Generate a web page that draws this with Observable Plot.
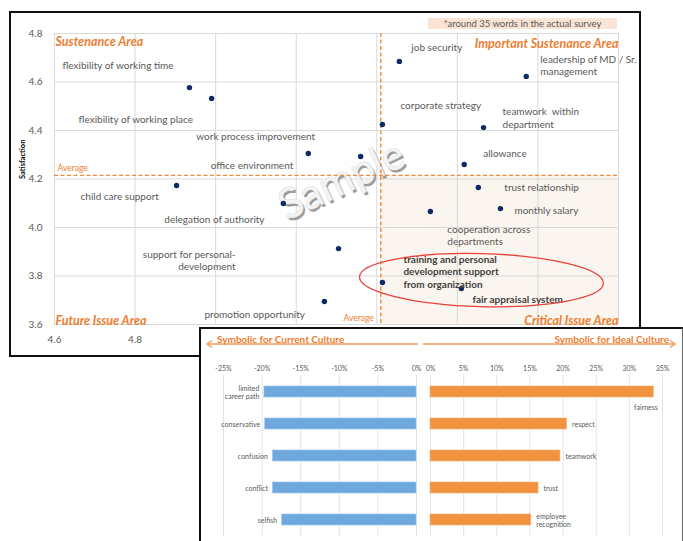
<!DOCTYPE html>
<html><head><meta charset="utf-8">
<script src="https://cdn.jsdelivr.net/npm/d3@7"></script>
<script src="https://cdn.jsdelivr.net/npm/@observablehq/plot@0.6"></script>
<style>
body{margin:0;background:#fff;font-family:Lato,"Liberation Sans",sans-serif;}
#page{position:relative;width:683px;height:541px;overflow:hidden;background:#fff;}
#scatterBox{position:absolute;left:9px;top:11px;width:632px;height:346px;border:2px solid #111;box-sizing:border-box;background:#fff;}
#scatterBox svg{position:absolute;left:0;top:0;}
#note{position:absolute;left:417px;top:5px;width:189px;height:11px;background:#FBE4D5;font-size:9.5px;color:#595959;text-align:center;line-height:11px;white-space:nowrap;}
#barBox{position:absolute;left:199px;top:327px;width:484px;height:222px;border-left:2px solid #111;border-top:2px solid #111;border-right:1px solid #666;box-sizing:border-box;background:#fff;}
#barBox > svg, #barBox > div{position:absolute;}
</style></head>
<body>
<div id="page">
  <div id="scatterBox"><div id="note">*around 35 words in the actual survey</div></div>
  <div id="barBox">
    <svg id="hdr" width="481" height="26" style="left:0;top:0;position:absolute;overflow:visible">
      <line x1="6" y1="15" x2="217" y2="15" stroke="#F29B5B" stroke-width="1.5"/>
      <polyline points="11,11.5 6,15 11,18.5" fill="none" stroke="#F29B5B" stroke-width="1.5"/>
      <line x1="222" y1="15" x2="474" y2="15" stroke="#F29B5B" stroke-width="1.5"/>
      <polyline points="469,11.5 474,15 469,18.5" fill="none" stroke="#F29B5B" stroke-width="1.5"/>
      <text x="16" y="14" fill="#ED7D31" font-size="10" font-weight="bold" font-family="Lato">Symbolic for Current Culture</text>
      <text x="468" y="14" fill="#ED7D31" font-size="10" font-weight="bold" font-family="Lato" text-anchor="end">Symbolic for Ideal Culture</text>
    </svg>
  </div>
</div>
<script>
// ---------- scatter data ----------
const items = ["flexibility of working time","flexibility of working place","work process improvement","office environment",
  "job security","leadership of MD / Sr. management","corporate strategy","teamwork within department","allowance",
  "child care support","delegation of authority","support for personal-development","promotion opportunity",
  "trust relationship","monthly salary","cooperation across departments",
  "training and personal development support from organization","fair appraisal system"];
const itemLabels = ["flexibility of working time","flexibility of working place","work process improvement","office environment",
  "job security","leadership of MD / Sr.\nmanagement","corporate strategy","teamwork  within\ndepartment","allowance",
  "child care support","delegation of authority","support for personal-\ndevelopment","promotion opportunity",
  "trust relationship","monthly salary","cooperation across\ndepartments",
  "training and personal\ndevelopment support\nfrom organization","fair appraisal system"];
const importance = [4.935,4.99,5.23,5.36,5.456,5.771,5.414,5.665,5.617,4.903,5.168,5.305,5.27,5.652,5.707,5.533,5.414,5.61];
const satisfaction = [4.577,4.532,4.305,4.293,4.685,4.623,4.425,4.412,4.26,4.173,4.099,3.913,3.695,4.165,4.078,4.066,3.773,3.748];
const highlighted = ["training and personal development support from organization","fair appraisal system"];
const avgImportance = 5.41;
const avgSatisfaction = 4.215;
const xTicks = [4.6,4.8,5.0,5.2,5.4,5.6,5.8,6.0];
const xTickLabelsShown = [4.6,4.8]; // the remaining x labels are hidden under the inset chart
const yTicks = [3.6,3.8,4.0,4.2,4.4,4.6,4.8];
const areaTitles = ["Sustenance Area","Important Sustenance Area","Future Issue Area","Critical Issue Area"];

// label placement (pixel offsets from each point)
const labelLayout = [
  ["start",-127,-22],["start",-133,21],["start",-112,-17],["start",-150,9],
  ["start",12,-14],["start",14,-11],["start",18,-19],["start",19,-10],["start",19,-11],
  ["start",-96,11],["start",-119,16],["end",-103,11.5],["start",-120,13],
  ["start",26,0],["start",14,2],["start",17,24],["start",21,-11],["start",11,10]
];

// ---------- bar data ----------
const currentTraits = ["limited career path","conservative","confusion","conflict","selfish"];
const currentTraitLabels = ["limited\ncareer path","conservative","confusion","conflict","selfish"];
const currentShare = [-0.197,-0.196,-0.186,-0.186,-0.174];
const currentTicks = [-0.25,-0.2,-0.15,-0.1,-0.05,0];
const idealTraits = ["fairness","respect","teamwork","trust","employee recognition"];
const idealTraitLabels = ["fairness","respect","teamwork","trust","employee\nrecognition"];
const idealShare = [0.337,0.206,0.196,0.163,0.152];
const idealTicks = [0,0.05,0.1,0.15,0.2,0.25,0.3,0.35];
const idealLabelLayout = [["end",4,15],["start",5,0],["start",5,0],["start",5,0],["start",5,0]];

const ORANGE = "#ED7D31";
const GRAY = "#595959";
const pct = d => `${Math.round(d*100)}%`;

// ---------- scatter ----------
const points = items.map((name,i)=>({name, label:itemLabels[i], x:importance[i], y:satisfaction[i]}));
const labelMarks = points.map((p,i)=>Plot.text([p],{
  x:"x", y:"y", text:"label", textAnchor:labelLayout[i][0], dx:labelLayout[i][1], dy:labelLayout[i][2],
  fontSize:10, lineHeight:1.22, fill: highlighted.includes(p.name) ? "#404040" : GRAY,
  fontWeight: highlighted.includes(p.name) ? "bold" : "normal"
}));
const x0 = xTicks[0], x1 = xTicks[xTicks.length-1], y0 = yTicks[0], y1 = yTicks[yTicks.length-1];
const titleStyle = {fontSize:12.5, fontWeight:"bold", fontStyle:"italic", fill:ORANGE};

const scatter = Plot.plot({
  width:628, height:342, marginLeft:43, marginRight:21, marginTop:20, marginBottom:31,
  x:{domain:[x0,x1], ticks:xTickLabelsShown, tickFormat:d3.format(".1f"), tickSize:0, tickPadding:11, label:null},
  y:{domain:[y0,y1], ticks:yTicks, tickFormat:d3.format(".1f"), tickSize:0, tickPadding:12, label:null},
  style:{fontFamily:"Lato", fontSize:"10px", color:GRAY, background:"transparent", overflow:"visible"},
  marks:[
    Plot.rect([0],{x1:()=>avgImportance, x2:()=>x1, y1:()=>y0, y2:()=>avgSatisfaction, fill:"#FAF5EE"}),
    Plot.ruleX(xTicks,{stroke:"#d9d9d9", strokeWidth:1}),
    Plot.ruleY(yTicks,{stroke:"#d9d9d9", strokeWidth:1}),
    Plot.text(["Sample"],{x:()=>5.313, y:()=>4.194, text:d=>d, rotate:-25, fontSize:42, fill:"#9c9c9c", dx:2, dy:2.5, fontFamily:"Lato"}),
    Plot.text(["Sample"],{x:()=>5.313, y:()=>4.194, text:d=>d, rotate:-25, fontSize:42, fill:"#f3f3f3", stroke:"#cfcfcf", strokeWidth:0.6, fontFamily:"Lato"}),
    Plot.ruleY([avgSatisfaction],{stroke:"#F08A3C", strokeDasharray:"4,2.5", strokeWidth:1.4}),
    Plot.ruleX([avgImportance],{stroke:"#F08A3C", strokeDasharray:"4,2.5", strokeWidth:1.4}),
    Plot.dot(points,{x:"x", y:"y", r:2.7, fill:"#0B2A66"}),
    ...labelMarks,
    Plot.text(["Average"],{x:()=>x0, y:()=>avgSatisfaction, text:d=>d, textAnchor:"start", dx:3, dy:-7, fontSize:8.5, fill:ORANGE}),
    Plot.text(["Average"],{x:()=>avgImportance, y:()=>y0, text:d=>d, textAnchor:"end", dx:-7, dy:-6, fontSize:8.5, fill:ORANGE}),
    Plot.text([areaTitles[0]],{x:()=>x0, y:()=>y1, text:d=>d, textAnchor:"start", dx:1, dy:8, ...titleStyle}),
    Plot.text([areaTitles[1]],{x:()=>x1, y:()=>y1, text:d=>d, textAnchor:"end", dx:0, dy:10, ...titleStyle}),
    Plot.text([areaTitles[2]],{x:()=>x0, y:()=>y0, text:d=>d, textAnchor:"start", dx:1, dy:-4, ...titleStyle}),
    Plot.text([areaTitles[3]],{x:()=>x1, y:()=>y0, text:d=>d, textAnchor:"end", dx:0, dy:-4, ...titleStyle}),
    Plot.text(["Satisfaction"],{frameAnchor:"left", text:d=>d, dx:-32, rotate:-90, fontSize:7.5, fontWeight:"bold", fill:"#000"})
  ]
});
// highlight ellipse around the two critical items, positioned with the plot's scales
{
  const sx = scatter.scale("x"), sy = scatter.scale("y");
  const fx = d3.scaleLinear(sx.domain, sx.range), fy = d3.scaleLinear(sy.domain, sy.range);
  const cx = fx(5.661), cy = fy(3.781);
  d3.select(scatter).append("ellipse")
    .attr("cx", cx).attr("cy", cy).attr("rx", 122).attr("ry", 26.5)
    .attr("transform", `rotate(1.5 ${cx} ${cy})`)
    .attr("fill","none").attr("stroke","#E8413A").attr("stroke-width",1.3);
}
document.getElementById("scatterBox").prepend(scatter);

// ---------- bars ----------
const barStyle = {fontFamily:"Lato", fontSize:"7px", color:GRAY, background:"transparent", overflow:"visible"};
const currentRows = currentTraits.map((t,i)=>({trait:t, label:currentTraitLabels[i], share:currentShare[i]}));
const idealRows = idealTraits.map((t,i)=>({trait:t, label:idealTraitLabels[i], share:idealShare[i]}));

const leftBars = Plot.plot({
  width:219, height:186, marginLeft:22, marginRight:4, marginTop:20, marginBottom:5,
  x:{domain:[currentTicks[0], currentTicks[currentTicks.length-1]], axis:"top", ticks:currentTicks, tickFormat:pct, tickSize:0, tickPadding:5, label:null},
  y:{domain:currentTraits, axis:null, paddingInner:0.67, paddingOuter:0.335},
  style:barStyle,
  marks:[
    Plot.ruleX(currentTicks,{stroke:"#e3e3e3"}),
    Plot.barX(currentRows,{x:"share", y:"trait", fill:"#6FA8DC", stroke:"#9CC4E8", strokeWidth:0.6}),
    Plot.text(currentRows,{x:"share", y:"trait", text:"label", textAnchor:"end", dx:-5, fontSize:7, lineHeight:1.2, fill:GRAY})
  ]
});
leftBars.style.left = "0px"; leftBars.style.top = "26px"; leftBars.style.position = "absolute";

const idealLabelMarks = idealRows.map((r,i)=>Plot.text([r],{x:"share", y:"trait", text:"label",
  textAnchor:idealLabelLayout[i][0], dx:idealLabelLayout[i][1], dy:idealLabelLayout[i][2], fontSize:7, lineHeight:1.2, fill:GRAY}));
const rightBars = Plot.plot({
  width:262, height:186, marginLeft:10, marginRight:20, marginTop:20, marginBottom:5,
  x:{domain:[idealTicks[0], idealTicks[idealTicks.length-1]], axis:"top", ticks:idealTicks, tickFormat:pct, tickSize:0, tickPadding:5, label:null},
  y:{domain:idealTraits, axis:null, paddingInner:0.67, paddingOuter:0.335},
  style:barStyle,
  marks:[
    Plot.ruleX(idealTicks,{stroke:"#e3e3e3"}),
    Plot.barX(idealRows,{x:"share", y:"trait", fill:"#F0923E", stroke:"#F5B27A", strokeWidth:0.6}),
    ...idealLabelMarks
  ]
});
rightBars.style.left = "219px"; rightBars.style.top = "26px"; rightBars.style.position = "absolute";

const bb = document.getElementById("barBox");
bb.appendChild(leftBars);
bb.appendChild(rightBars);
</script>
</body></html>
